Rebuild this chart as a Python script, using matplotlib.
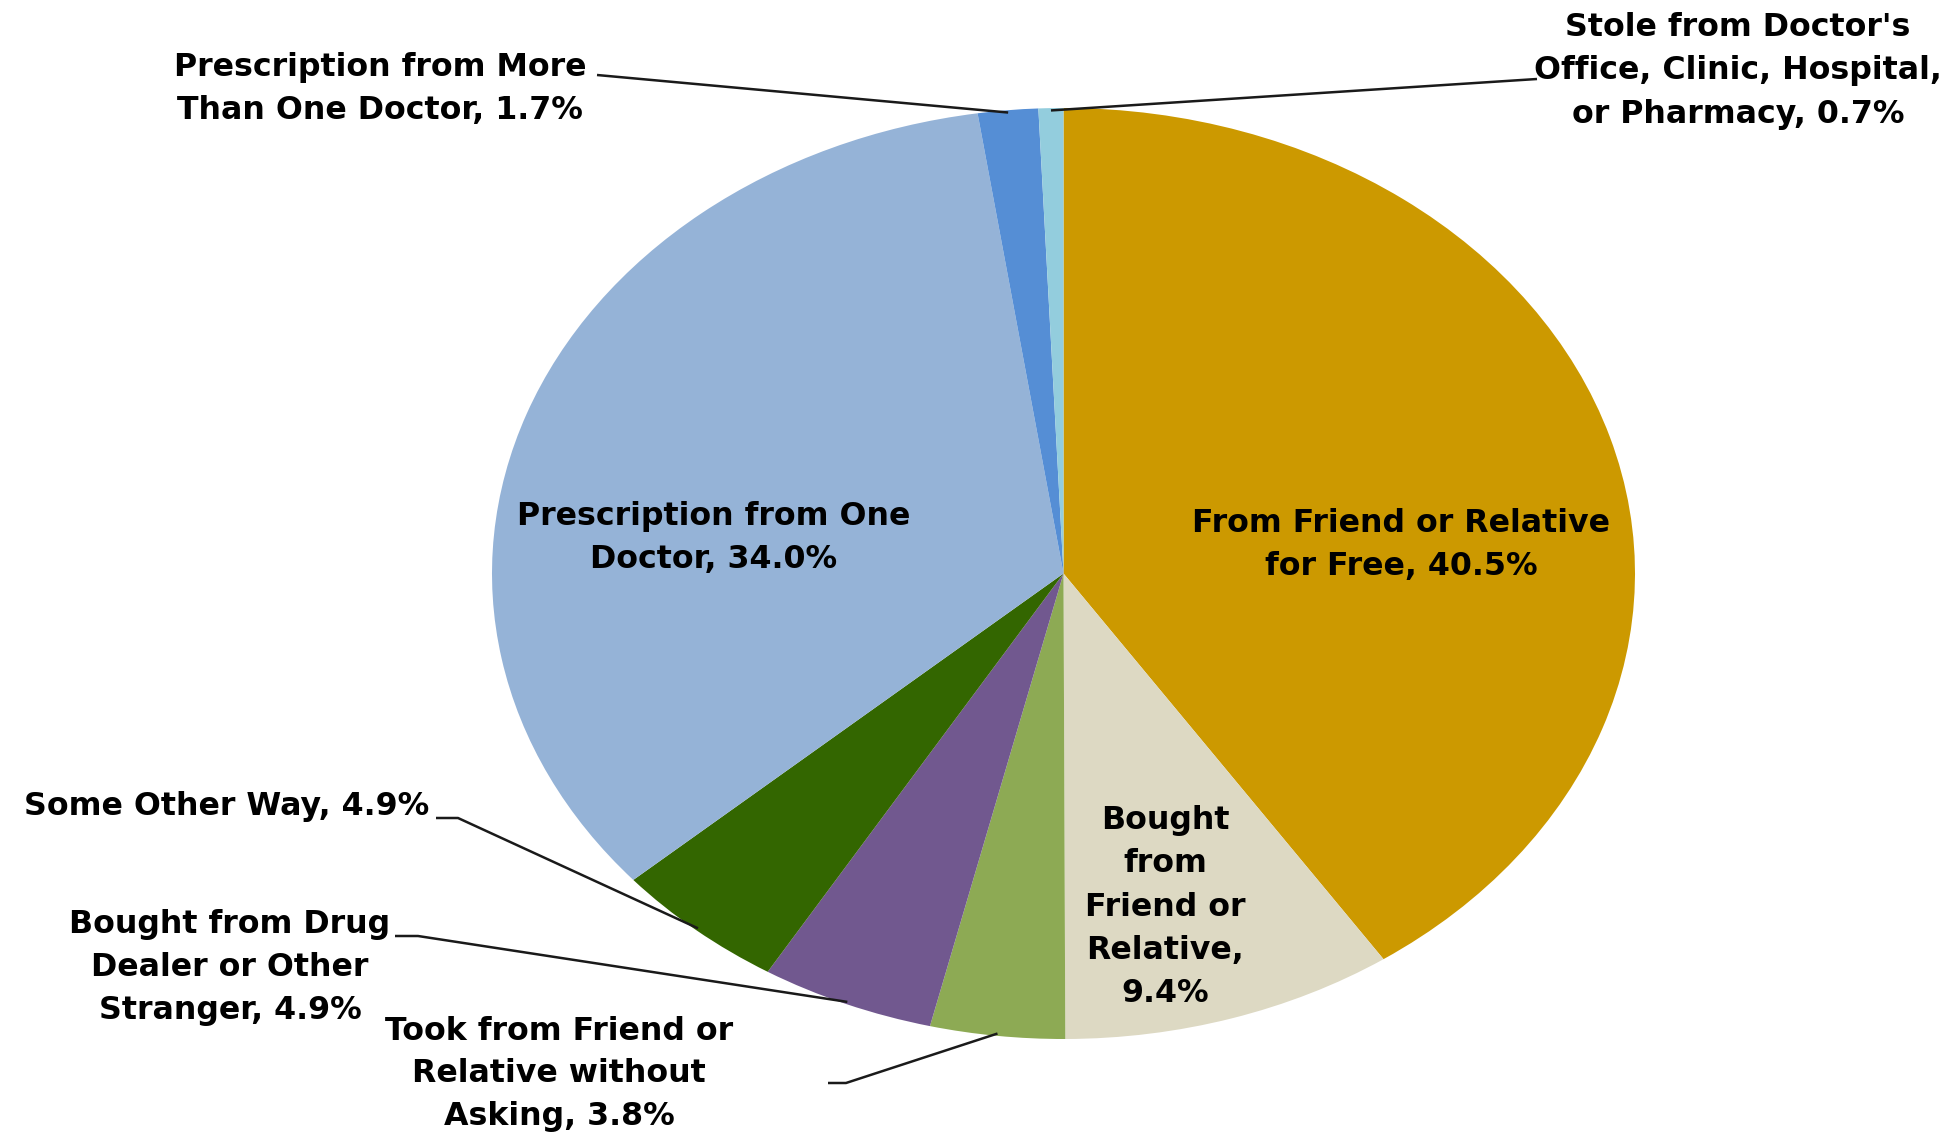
import numpy as np
import matplotlib
matplotlib.use("Agg")
import matplotlib.pyplot as plt

# Sources of prescription pain relievers (percent), clockwise from 12 o'clock
categories = [
    "From Friend or Relative\nfor Free",
    "Bought\nfrom\nFriend or\nRelative",
    "Took from Friend or\nRelative without\nAsking",
    "Bought from Drug\nDealer or Other\nStranger",
    "Some Other Way",
    "Prescription from One\nDoctor",
    "Prescription from More\nThan One Doctor",
    "Stole from Doctor's\nOffice, Clinic, Hospital,\nor Pharmacy",
]
values = [40.5, 9.4, 3.8, 4.9, 4.9, 34.0, 1.7, 0.7]
colors = ["#CC9900", "#DDD9C3", "#8DAA54", "#71588F", "#336600",
          "#95B3D7", "#558ED5", "#93CDDD"]

W, H = 1951, 1134
fig = plt.figure(figsize=(W / 100, H / 100), dpi=100)
fig.patch.set_facecolor("white")

# elliptical pie: axes box spans the ellipse bounding box
cx, cy, rx, ry = 1063.5, 573.5, 571.5, 465.5
ax = fig.add_axes([(cx - rx) / W, (H - cy - ry) / H, 2 * rx / W, 2 * ry / H])
wedges, _ = ax.pie(values, colors=colors, startangle=90, counterclock=False,
                   radius=1.0, wedgeprops=dict(linewidth=0))
ax.set_aspect("auto")
ax.set_xlim(-1, 1)
ax.set_ylim(-1, 1)
ax.axis("off")

# overlay in pixel coordinates (y down) for labels and leader lines
ov = fig.add_axes([0, 0, 1, 1], facecolor="none")
ov.set_xlim(0, W)
ov.set_ylim(H, 0)
ov.axis("off")

FONT = "DejaVu Sans"
FS = 22.8


def full_label(i):
    # the narrow beige slice puts its value on a line of its own
    sep = ",\n" if i == 1 else ", "
    return f"{categories[i]}{sep}{values[i]:.1f}%"


def edge_point(i, r=1.0):
    cum = np.cumsum([0] + values)
    total = sum(values)
    mid = 90 - 360 * (cum[i] + cum[i + 1]) / 2 / total
    t = np.deg2rad(mid)
    disp = ax.transData.transform((r * np.cos(t), r * np.sin(t)))
    return ov.transData.inverted().transform(disp)


# label anchor positions (pixels)
label_pos = {
    0: (1401, 545),
    1: (1165, 907),
    2: (559, 1074),
    3: (230, 968),
    4: (227, 807),
    5: (714, 538),
    6: (380, 89),
    7: (1738, 71),
}

for i, (x, y) in label_pos.items():
    ov.text(x, y, full_label(i), ha="center", va="center", fontsize=FS,
            fontweight="bold", family=FONT, color="black", linespacing=1.5,
            multialignment="center")

# leader lines: label-side start, short horizontal, then to slice edge
leaders = {
    6: [(597, 75)],
    7: [(1537, 79)],
    4: [(436, 818), (458, 818)],
    3: [(395, 936), (418, 936)],
    2: [(828, 1083), (846, 1083)],
}
for i, pts in leaders.items():
    ex, ey = edge_point(i, 0.995)
    xs = [p[0] for p in pts] + [ex]
    ys = [p[1] for p in pts] + [ey]
    ov.plot(xs, ys, color="#1a1a1a", lw=1.8, solid_capstyle="butt")

fig.savefig("out.png", dpi=100, facecolor="white")
